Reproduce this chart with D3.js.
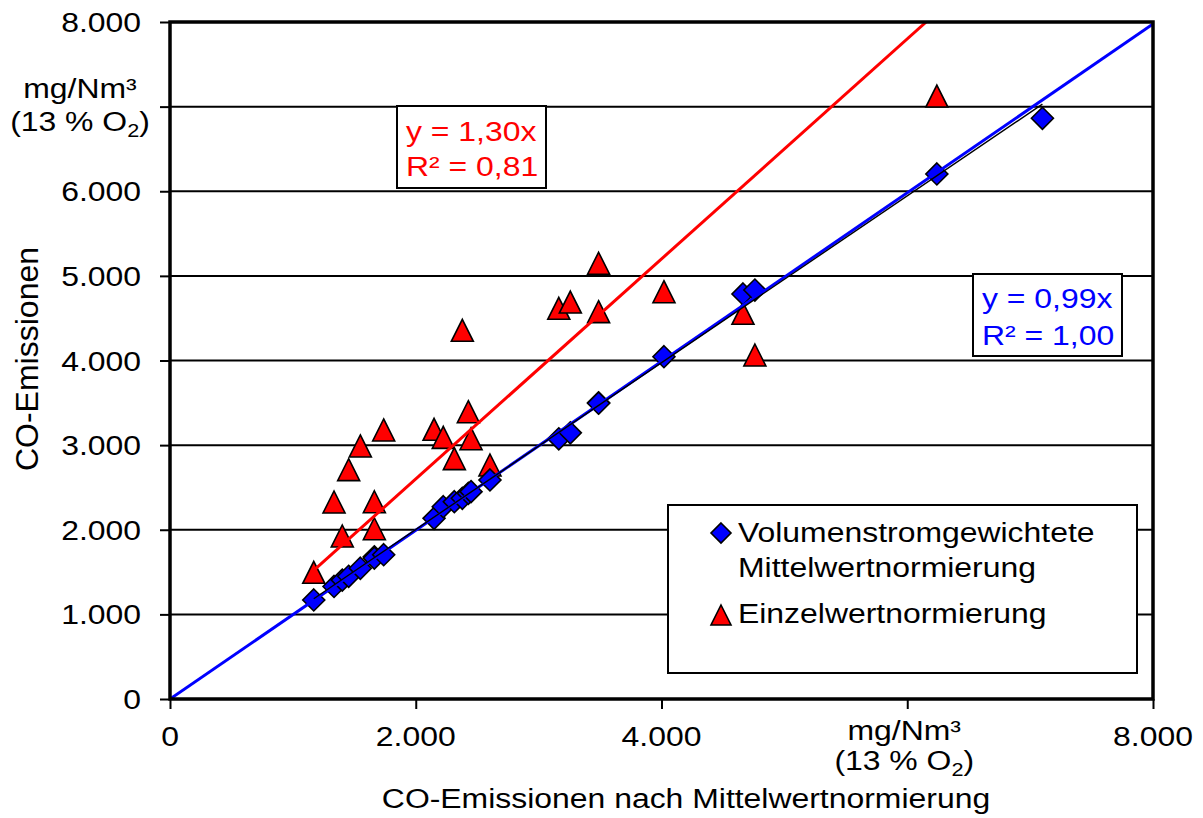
<!DOCTYPE html>
<html>
<head>
<meta charset="utf-8">
<script src="https://cdn.jsdelivr.net/npm/d3@7"></script>
<style>
  html, body { margin: 0; padding: 0; background: #fff; }
  svg { display: block; }
  text { font-family: "Liberation Sans", Arial, sans-serif; }
</style>
</head>
<body>
<svg id="chart" width="1203" height="818"></svg>
<script>
// ---- data ----
const xValues   = [1170, 1335, 1402, 1454, 1549, 1663, 1663, 1739, 2149, 2224, 2314, 2379, 2428, 2450, 2604, 3164, 3258, 3488, 3488, 4020, 4663, 4760, 6241, 7100];
const blueValues = [1170, 1330, 1405, 1450, 1545, 1680, 1665, 1705, 2135, 2272, 2331, 2372, 2430, 2450, 2588, 3075, 3145, 3500, 3495, 4045, 4786, 4833, 6204, 6862];
const redValues  = [1497, 2328, 1926, 2710, 2990, 2012, 2331, 3179, 3187, 3092, 2840, 4357, 3395, 3076, 2765, 4617, 4691, 5149, 4577, 4813, 4558, 4065, 7125, null];
const seriesNames = ["Volumenstromgewichtete", "Mittelwertnormierung", "Einzelwertnormierung"];
const xTicks = [0, 2000, 4000, 6000, 8000];
const yTicks = [0, 1000, 2000, 3000, 4000, 5000, 6000, 7000, 8000];
const unitTick = 7000;      // y tick replaced by unit label
const unitTickX = 6000;     // x tick replaced by unit label
const blueSlope = 0.997;    // drawn blue trend (label y = 0,99x)
const redSlope = 1.30;      // red trend
const blueLabel = ["y = 0,99x", "R² = 1,00"];
const redLabel = ["y = 1,30x", "R² = 0,81"];
const xTitle = "CO-Emissionen nach Mittelwertnormierung";
const yTitle = "CO-Emissionen";

// ---- setup ----
const svg = d3.select("#chart");
const L = 170, R = 1153, T = 22, B = 699;
const x = d3.scaleLinear().domain([0, 8000]).range([L, R]);
const y = d3.scaleLinear().domain([0, 8000]).range([B, T]);
const de = d3.formatLocale({decimal: ",", thousands: ".", grouping: [3], currency: ["", "€"]});
const fmt = de.format(",.0f");
const BLUE = "#0000ff", RED = "#ff0000";
const SX = 1.14;

function txt(parent, px, py, str, anchor, size, fill) {
  return parent.append("text")
    .attr("transform", `translate(${px},${py}) scale(${SX},1)`)
    .attr("text-anchor", anchor || "start")
    .attr("font-size", size || 28)
    .attr("fill", fill || "#000")
    .text(str);
}
function unitLabel(parent, cx, by1, by2) {
  txt(parent, cx, by1, "mg/Nm³", "middle");
  const t = parent.append("text")
    .attr("transform", `translate(${cx},${by2}) scale(${SX},1)`)
    .attr("text-anchor", "middle").attr("font-size", 28).attr("fill", "#000");
  t.append("tspan").text("(13 % O");
  t.append("tspan").attr("font-size", 19).attr("dy", 6).text("2");
  t.append("tspan").attr("dy", -6).text(")");
}

svg.append("defs").append("clipPath").attr("id", "clip")
  .append("rect").attr("x", L).attr("y", T).attr("width", R - L).attr("height", B - T);

// gridlines
svg.append("g").selectAll("line").data(yTicks.filter(v => v > 0 && v < 8000)).join("line")
  .attr("x1", L).attr("x2", R).attr("y1", d => y(d)).attr("y2", d => y(d))
  .attr("stroke", "#000").attr("stroke-width", 2);

// axes (ticks + labels)
const yAxis = svg.append("g").attr("transform", `translate(${L},0)`)
  .call(d3.axisLeft(y).tickValues(yTicks).tickSize(10).tickFormat(""));
yAxis.select(".domain").remove();
yAxis.selectAll(".tick line").attr("stroke", "#000").attr("stroke-width", 2);
const xAxis = svg.append("g").attr("transform", `translate(0,${B})`)
  .call(d3.axisBottom(x).tickValues(xTicks).tickSize(10).tickFormat(""));
xAxis.select(".domain").remove();
xAxis.selectAll(".tick line").attr("stroke", "#000").attr("stroke-width", 2);

const labels = svg.append("g");
yTicks.forEach(v => {
  if (v === unitTick) return;
  txt(labels, 141, y(v) + 10, fmt(v), "end");
});
unitLabel(labels, 80, 98, 131);
xTicks.forEach(v => {
  if (v === unitTickX) return;
  txt(labels, x(v), 746, fmt(v), "middle");
});
unitLabel(labels, x(unitTickX) - 3, 740, 770);

// titles
txt(labels, 686, 808, xTitle, "middle");
labels.append("text")
  .attr("transform", "translate(38,359) rotate(-90)")
  .attr("text-anchor", "middle").attr("font-size", 32).attr("fill", "#000")
  .text(yTitle);

// markers
const diamond = s => `M0,${-s}L${s},0L0,${s}L${-s},0Z`;
const triangle = s => `M0,${-s}L${s},${s}L${-s},${s}Z`;
const pts = xValues.map((v, i) => ({x: v, b: blueValues[i], r: redValues[i]}));
const marks = svg.append("g").attr("clip-path", "url(#clip)");
marks.selectAll(".tri").data(pts.filter(d => d.r != null)).join("path")
  .attr("class", "tri")
  .attr("transform", d => `translate(${x(d.x)},${y(d.r)})`)
  .attr("d", triangle(11)).attr("fill", RED).attr("stroke", "#000").attr("stroke-width", 1.6)
  .attr("stroke-linejoin", "miter");
marks.selectAll(".dia").data(pts).join("path")
  .attr("class", "dia")
  .attr("transform", d => `translate(${x(d.x)},${y(d.b)})`)
  .attr("d", diamond(11)).attr("fill", BLUE).attr("stroke", "#000").attr("stroke-width", 1.6);

// trend lines
const lines = svg.append("g").attr("clip-path", "url(#clip)");
const line = d3.line().x(d => x(d[0])).y(d => y(d[1]));
const xMin = d3.min(xValues), xMax = d3.max(xValues);
// red: through origin, from first data point up to top
lines.append("path").datum([[xMin, redSlope * xMin], [8000 / redSlope, 8000]])
  .attr("d", line).attr("fill", "none").attr("stroke", RED).attr("stroke-width", 3);
// blue: through origin over full range
lines.append("path").datum([[0, 0], [8000, blueSlope * 8000]])
  .attr("d", line).attr("fill", "none").attr("stroke", BLUE).attr("stroke-width", 3);
// thin black: least-squares fit of blue series over data range
const mx = d3.mean(xValues), my = d3.mean(blueValues);
const sxy = d3.sum(xValues, (v, i) => (v - mx) * (blueValues[i] - my));
const sxx = d3.sum(xValues, v => (v - mx) * (v - mx));
const k = sxy / sxx, c0 = my - k * mx;
lines.append("path").datum([[xMin, c0 + k * xMin], [xMax, c0 + k * xMax]])
  .attr("d", line).attr("fill", "none").attr("stroke", "#000").attr("stroke-width", 1.4);

// plot frame
svg.append("rect").attr("x", L).attr("y", T).attr("width", R - L).attr("height", B - T)
  .attr("fill", "none").attr("stroke", "#000").attr("stroke-width", 3.5);

// trend label boxes
const lb = svg.append("g");
lb.append("rect").attr("x", 397).attr("y", 106).attr("width", 149).attr("height", 82)
  .attr("fill", "#fff").attr("stroke", "#000").attr("stroke-width", 2);
txt(lb, 406, 141, redLabel[0], "start", 28, RED);
txt(lb, 406, 176, redLabel[1], "start", 28, RED);
lb.append("rect").attr("x", 973).attr("y", 274).attr("width", 149).attr("height", 82)
  .attr("fill", "#fff").attr("stroke", "#000").attr("stroke-width", 2);
txt(lb, 982, 308, blueLabel[0], "start", 28, BLUE);
txt(lb, 982, 345, blueLabel[1], "start", 28, BLUE);

// legend
const lg = svg.append("g");
lg.append("rect").attr("x", 668).attr("y", 505).attr("width", 469).attr("height", 168)
  .attr("fill", "#fff").attr("stroke", "#000").attr("stroke-width", 2);
lg.append("path").attr("transform", "translate(721,533)").attr("d", diamond(10))
  .attr("fill", BLUE).attr("stroke", "#000").attr("stroke-width", 1.6);
txt(lg, 738, 542, seriesNames[0]);
txt(lg, 738, 577, seriesNames[1]);
lg.append("path").attr("transform", "translate(721,615)").attr("d", triangle(10))
  .attr("fill", RED).attr("stroke", "#000").attr("stroke-width", 1.6);
txt(lg, 738, 623, seriesNames[2]);
</script>
</body>
</html>
